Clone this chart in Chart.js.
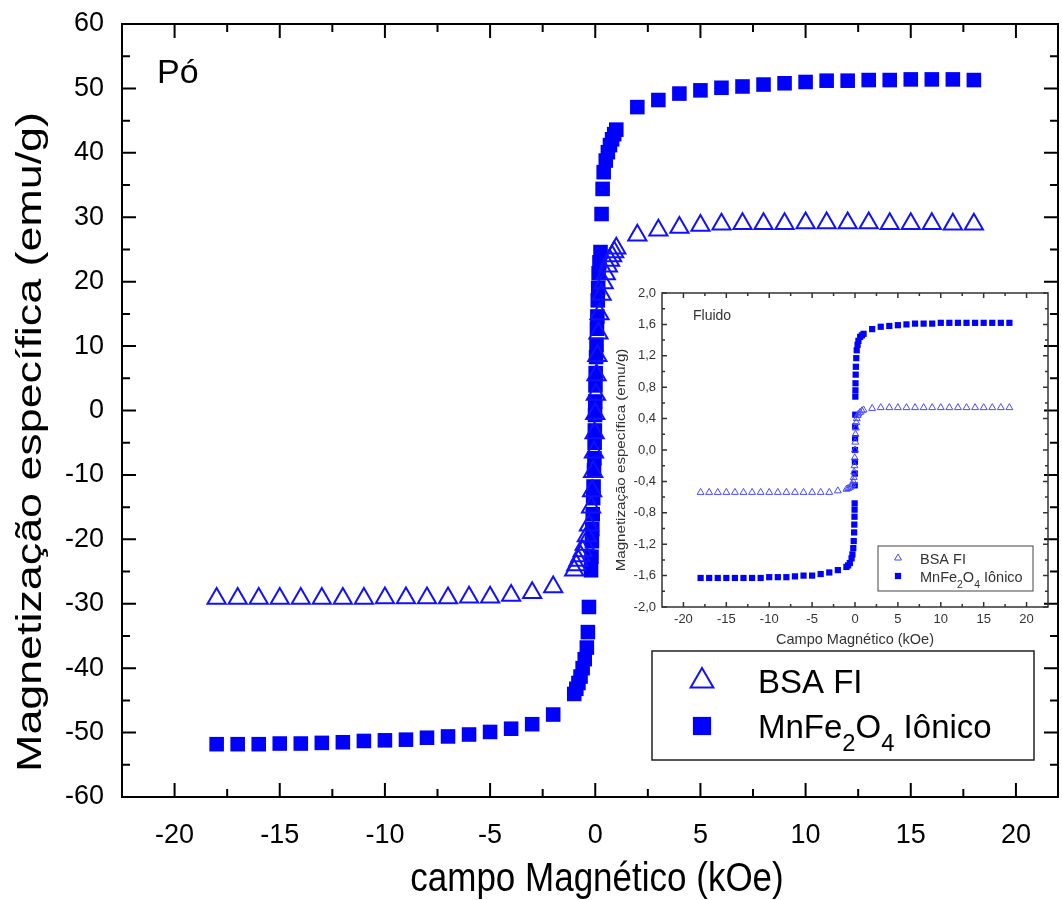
<!DOCTYPE html>
<html>
<head>
<meta charset="utf-8">
<script src="https://cdn.jsdelivr.net/npm/chart.js@4.4.1/dist/chart.umd.min.js"></script>
<style>
  body { margin: 0; background: #fff; }
  #page { position: relative; width: 1062px; height: 900px; }
  #mainChart { position: absolute; left: 0; top: 0; }
  #insetChart { position: absolute; left: 600px; top: 275px; }
</style>
</head>
<body>
<div id="page">
  <canvas id="mainChart" width="1062" height="900"></canvas>
  <canvas id="insetChart" width="460" height="375"></canvas>
</div>
<script>
// Series names (subscript digits are drawn lowered in the legend)
const seriesNames = ['BSA FI', 'MnFe₂O₄ Iônico'];

// Tick values
const fieldTicks = [-20, -15, -10, -5, 0, 5, 10, 15, 20];
const mainMagTicks = [-60, -50, -40, -30, -20, -10, 0, 10, 20, 30, 40, 50, 60];
const insetMagTicks = [-2.0, -1.6, -1.2, -0.8, -0.4, 0.0, 0.4, 0.8, 1.2, 1.6, 2.0];

// Main panel: powder (Pó), field in kOe, magnetization in emu/g
const bsaPoField = [-18, -17, -16, -15, -14, -13, -12, -11, -10, -9, -8, -7, -6, -5, -4, -3, -2, -1,
  -0.9, -0.8, -0.7, -0.6, -0.5, -0.4, -0.3, -0.2, -0.15, -0.1, -0.06, -0.03, 0, 0.03, 0.06, 0.1, 0.15, 0.2,
  0.3, 0.4, 0.5, 0.6, 0.7, 0.8, 0.9, 1,
  2, 3, 4, 5, 6, 7, 8, 9, 10, 11, 12, 13, 14, 15, 16, 17, 18];
const bsaPoMag = [-29.2, -29.2, -29.2, -29.2, -29.2, -29.2, -29.2, -29.2, -29.1, -29.1, -29.1, -29.1, -29.0, -29.0, -28.7, -28.3, -27.4, -24.8,
  -24.0, -23.3, -22.6, -21.8, -20.8, -19.5, -17.8, -15.0, -12.5, -9.5, -6.5, -3.5, -0.5, 2.5, 5.5, 8.5, 12.0, 15.0,
  18.0, 19.8, 21.2, 22.4, 23.3, 24.0, 24.6, 25.2,
  27.2, 28.0, 28.4, 28.7, 28.9, 29.0, 29.0, 29.0, 29.1, 29.1, 29.1, 29.1, 29.0, 29.0, 29.0, 28.9, 28.9];

const mnPoField = [-18, -17, -16, -15, -14, -13, -12, -11, -10, -9, -8, -7, -6, -5, -4, -3, -2,
  -1, -0.9, -0.8, -0.7, -0.6, -0.5, -0.4, -0.35, -0.3, -0.2, -0.18, -0.16, -0.14, -0.12, -0.1, -0.08, -0.06,
  -0.04, -0.03, -0.02, -0.01, 0, 0.01, 0.02, 0.04, 0.06, 0.08, 0.1, 0.12, 0.14, 0.16, 0.2, 0.25,
  0.3, 0.35, 0.4, 0.5, 0.6, 0.7, 0.8, 0.9, 1,
  2, 3, 4, 5, 6, 7, 8, 9, 10, 11, 12, 13, 14, 15, 16, 17, 18];
const mnPoMag = [-51.8, -51.8, -51.8, -51.7, -51.7, -51.6, -51.5, -51.3, -51.2, -51.1, -50.8, -50.6, -50.3, -49.9, -49.4, -48.7, -47.2,
  -44.0, -43.2, -42.3, -41.3, -40.0, -38.6, -36.8, -34.4, -30.5, -24.8, -22.7, -20.3, -18.4, -16.1, -13.6, -11.8, -9.3,
  -7.4, -5.0, -3.1, -0.7, 1.4, 3.9, 5.8, 8.3, 10.2, 12.7, 14.6, 17.1, 19.0, 21.3, 23.0, 24.6,
  30.5, 34.4, 37.0, 38.8, 40.1, 41.2, 42.1, 42.9, 43.6,
  47.1, 48.2, 49.2, 49.7, 50.1, 50.3, 50.6, 50.8, 51.0, 51.2, 51.2, 51.3, 51.3, 51.4, 51.4, 51.4, 51.3];

// Inset: fluid (Fluido)
const bsaFlField = [-18, -17, -16, -15, -14, -13, -12, -11, -10, -9, -8, -7, -6, -5, -4, -3, -2, -1,
  -0.8, -0.6, -0.4, -0.3, -0.2, -0.15, -0.1, -0.06, -0.03, 0, 0.03, 0.06, 0.1, 0.15, 0.2, 0.3, 0.4, 0.6, 0.8, 1,
  2, 3, 4, 5, 6, 7, 8, 9, 10, 11, 12, 13, 14, 15, 16, 17, 18];
const bsaFlMag = [-0.54, -0.54, -0.54, -0.54, -0.54, -0.54, -0.54, -0.54, -0.54, -0.54, -0.54, -0.54, -0.54, -0.54, -0.54, -0.54, -0.52, -0.50,
  -0.49, -0.48, -0.46, -0.44, -0.40, -0.35, -0.28, -0.20, -0.10, 0.0, 0.10, 0.20, 0.28, 0.35, 0.40, 0.44, 0.46, 0.48, 0.50, 0.51,
  0.53, 0.54, 0.54, 0.54, 0.54, 0.54, 0.54, 0.54, 0.54, 0.54, 0.54, 0.54, 0.54, 0.54, 0.54, 0.54, 0.54];

const mnFlField = [-18, -17, -16, -15, -14, -13, -12, -11, -10, -9, -8, -7, -6, -5, -4, -3, -2, -1,
  -0.8, -0.6, -0.4, -0.3, -0.2, -0.15, -0.1, -0.08, -0.06, -0.05, -0.04, -0.03, -0.02, -0.01, 0,
  0.01, 0.02, 0.03, 0.04, 0.05, 0.06, 0.08, 0.1, 0.15, 0.2, 0.3, 0.4, 0.6, 0.8, 1,
  2, 3, 4, 5, 6, 7, 8, 9, 10, 11, 12, 13, 14, 15, 16, 17, 18];
const mnFlMag = [-1.63, -1.63, -1.63, -1.63, -1.63, -1.63, -1.63, -1.63, -1.62, -1.62, -1.62, -1.61, -1.60, -1.60, -1.58, -1.56, -1.53, -1.49,
  -1.47, -1.44, -1.38, -1.33, -1.25, -1.16, -1.05, -0.95, -0.85, -0.76, -0.68, -0.45, -0.30, -0.15, 0.0,
  0.15, 0.30, 0.45, 0.68, 0.76, 0.85, 0.96, 1.06, 1.17, 1.27, 1.34, 1.39, 1.44, 1.46, 1.48,
  1.54, 1.57, 1.58, 1.59, 1.60, 1.61, 1.61, 1.61, 1.62, 1.62, 1.62, 1.62, 1.62, 1.62, 1.62, 1.62, 1.62];

const toPoints = (xs, ys) => xs.map((x, i) => ({ x: x, y: ys[i] }));
const FONT = "'Liberation Sans', Arial, sans-serif";
const SUB = '₀₁₂₃₄₅₆₇₈₉';

// text with optional subscript digits
function drawRich(ctx, str, x, y, size, color) {
  ctx.fillStyle = color;
  ctx.textAlign = 'left';
  ctx.textBaseline = 'alphabetic';
  let cx = x;
  for (const ch of str) {
    const i = SUB.indexOf(ch);
    if (i >= 0) {
      ctx.font = (size * 0.72) + 'px ' + FONT;
      ctx.fillText(String(i), cx, y + size * 0.38);
      cx += ctx.measureText(String(i)).width;
    } else {
      ctx.font = size + 'px ' + FONT;
      ctx.fillText(ch, cx, y);
      cx += ctx.measureText(ch).width;
    }
  }
}

function marker(ctx, ds, x, y, scale) {
  ctx.save();
  ctx.fillStyle = ds.backgroundColor;
  ctx.strokeStyle = ds.borderColor;
  ctx.lineWidth = ds.borderWidth;
  Chart.helpers.drawPoint(ctx, {
    pointStyle: ds.pointStyle, radius: ds.pointRadius * scale, rotation: 0, borderWidth: ds.borderWidth
  }, x, y);
  ctx.restore();
}

// fixed tick positions and no extra label padding, so the plot box stays put
const useTicks = values => scale => { scale.ticks = values.map(v => ({ value: v })); };
const fitTo = (prop, size) => scale => {
  scale[prop] = size;
  scale.paddingTop = 0; scale.paddingBottom = 0;
  scale.paddingLeft = 0; scale.paddingRight = 0;
};

// frame on all four sides with inward major and minor ticks
const frameTicks = {
  id: 'frameTicks',
  afterDraw(chart, args, o) {
    const { ctx, chartArea: a } = chart;
    ctx.save();
    ctx.strokeStyle = o.color;
    ctx.lineWidth = o.width;
    ctx.strokeRect(a.left, a.top, a.right - a.left, a.bottom - a.top);
    ctx.beginPath();
    ['x', 'y'].forEach(id => {
      const s = chart.scales[id];
      const vals = s.ticks.map(t => t.value);
      const step = vals[1] - vals[0];
      const minors = [vals[0] - step / 2].concat(vals.map(v => v + step / 2))
        .filter(v => v > s.min + 1e-9 && v < s.max - 1e-9);
      const put = (v, len) => {
        const p = s.getPixelForValue(v);
        if (id === 'x') {
          ctx.moveTo(p, a.bottom); ctx.lineTo(p, a.bottom - len);
          ctx.moveTo(p, a.top); ctx.lineTo(p, a.top + len);
        } else {
          ctx.moveTo(a.left, p); ctx.lineTo(a.left + len, p);
          ctx.moveTo(a.right, p); ctx.lineTo(a.right - len, p);
        }
      };
      vals.forEach(v => put(v, o.major));
      minors.forEach(v => put(v, o.minor));
    });
    ctx.stroke();
    ctx.restore();
  }
};

// axis titles, panel tag and boxed legend
const decorations = {
  id: 'decorations',
  afterDraw(chart, args, o) {
    const ctx = chart.ctx;
    o.texts.forEach(t => {
      ctx.save();
      ctx.translate(t.x, t.y);
      if (t.rot) ctx.rotate(t.rot);
      ctx.scale(t.sx || 1, t.sy || 1);
      ctx.font = t.size + 'px ' + FONT;
      ctx.fillStyle = t.color;
      ctx.textAlign = t.align || 'center';
      ctx.textBaseline = t.baseline || 'middle';
      ctx.fillText(t.text, 0, 0);
      ctx.restore();
    });
    const L = o.legend;
    ctx.save();
    ctx.strokeStyle = L.border;
    ctx.lineWidth = L.borderWidth;
    ctx.strokeRect(L.x, L.y, L.w, L.h);
    chart.data.datasets.forEach((ds, i) => {
      marker(ctx, ds, L.x + L.markerX, L.y + L.rows[i], L.markerScale);
      drawRich(ctx, ds.label, L.x + L.textX, L.y + L.rows[i] + L.baseline, L.size, L.color);
    });
    ctx.restore();
  }
};

const mainChart = new Chart(document.getElementById('mainChart'), {
  type: 'scatter',
  data: {
    datasets: [{
      label: seriesNames[0],
      data: toPoints(bsaPoField, bsaPoMag),
      pointStyle: 'triangle',
      pointRadius: 10.5,
      borderWidth: 2,
      borderColor: '#1010ff',
      backgroundColor: 'rgba(255,255,255,0)'
    }, {
      label: seriesNames[1],
      data: toPoints(mnPoField, mnPoMag),
      pointStyle: 'rect',
      pointRadius: 10.3,
      borderWidth: 0,
      borderColor: '#0000ff',
      backgroundColor: '#0000ff'
    }]
  },
  options: {
    responsive: false,
    animation: false,
    layout: { autoPadding: false, padding: { top: 24, right: 4, left: 0, bottom: 0 } },
    scales: {
      x: {
        type: 'linear', min: -22.5, max: 22,
        grid: { display: false, drawTicks: false },
        border: { display: false },
        ticks: { maxRotation: 0, padding: 22, color: '#000', font: { family: FONT, size: 27 } },
        afterBuildTicks: useTicks(fieldTicks),
        afterFit: fitTo('height', 103)
      },
      y: {
        type: 'linear', min: -60, max: 60,
        grid: { display: false, drawTicks: false },
        border: { display: false },
        ticks: { padding: 18, color: '#000', font: { family: FONT, size: 27 } },
        afterBuildTicks: useTicks(mainMagTicks),
        afterFit: fitTo('width', 122)
      }
    },
    plugins: {
      legend: { display: false },
      tooltip: { enabled: false },
      frameTicks: { color: '#000', width: 2, major: 14, minor: 8 },
      decorations: {
        texts: [
          { text: 'campo Magnético (kOe)', x: 597, y: 880, size: 35, sy: 1.15, color: '#000' },
          { text: 'Magnetização específica (emu/g)', x: 31, y: 442, size: 35, sx: 1.28, rot: -Math.PI / 2, color: '#000' },
          { text: 'Pó', x: 157, y: 83, size: 34, align: 'left', baseline: 'alphabetic', color: '#000' }
        ],
        legend: { x: 652, y: 651, w: 382, h: 109, markerX: 50, textX: 106, rows: [30, 75], baseline: 12, size: 33, markerScale: 1.25, color: '#000', border: '#222', borderWidth: 1.5 }
      }
    }
  },
  plugins: [frameTicks, decorations]
});

const insetChart = new Chart(document.getElementById('insetChart'), {
  type: 'scatter',
  data: {
    datasets: [{
      label: seriesNames[0],
      data: toPoints(bsaFlField, bsaFlMag),
      pointStyle: 'triangle',
      pointRadius: 4,
      borderWidth: 1,
      borderColor: '#4a4aff',
      backgroundColor: 'rgba(255,255,255,0)'
    }, {
      label: seriesNames[1],
      data: toPoints(mnFlField, mnFlMag),
      pointStyle: 'rect',
      pointRadius: 4.4,
      borderWidth: 0,
      borderColor: '#0000ff',
      backgroundColor: '#0000ff'
    }]
  },
  options: {
    responsive: false,
    animation: false,
    layout: { autoPadding: false, padding: { top: 18, right: 12, left: 0, bottom: 0 } },
    scales: {
      x: {
        type: 'linear', min: -22.5, max: 22.5,
        grid: { display: false, drawTicks: false },
        border: { display: false },
        ticks: { maxRotation: 0, padding: 5, color: '#333', font: { family: FONT, size: 13 } },
        afterBuildTicks: useTicks(fieldTicks),
        afterFit: fitTo('height', 43)
      },
      y: {
        type: 'linear', min: -2, max: 2,
        grid: { display: false, drawTicks: false },
        border: { display: false },
        ticks: { padding: 6, color: '#333', font: { family: FONT, size: 13 },
          callback: v => v.toFixed(1).replace('.', ',') },
        afterBuildTicks: useTicks(insetMagTicks),
        afterFit: fitTo('width', 62)
      }
    },
    plugins: {
      legend: { display: false },
      tooltip: { enabled: false },
      frameTicks: { color: '#333', width: 1.5, major: 5, minor: 3 },
      decorations: {
        texts: [
          { text: 'Campo Magnético (kOe)', x: 255, y: 365, size: 14.5, color: '#333' },
          { text: 'Magnetização específica (emu/g)', x: 21, y: 185, size: 13.5, sx: 1.12, rot: -Math.PI / 2, color: '#333' },
          { text: 'Fluido', x: 93, y: 44.5, size: 14, align: 'left', baseline: 'alphabetic', color: '#333' }
        ],
        legend: { x: 278, y: 271, w: 155, h: 45, markerX: 20, textX: 42, rows: [12, 30], baseline: 6, size: 14.5, markerScale: 1, color: '#333', border: '#444', borderWidth: 1 }
      }
    }
  },
  plugins: [frameTicks, decorations]
});
</script>
</body>
</html>
